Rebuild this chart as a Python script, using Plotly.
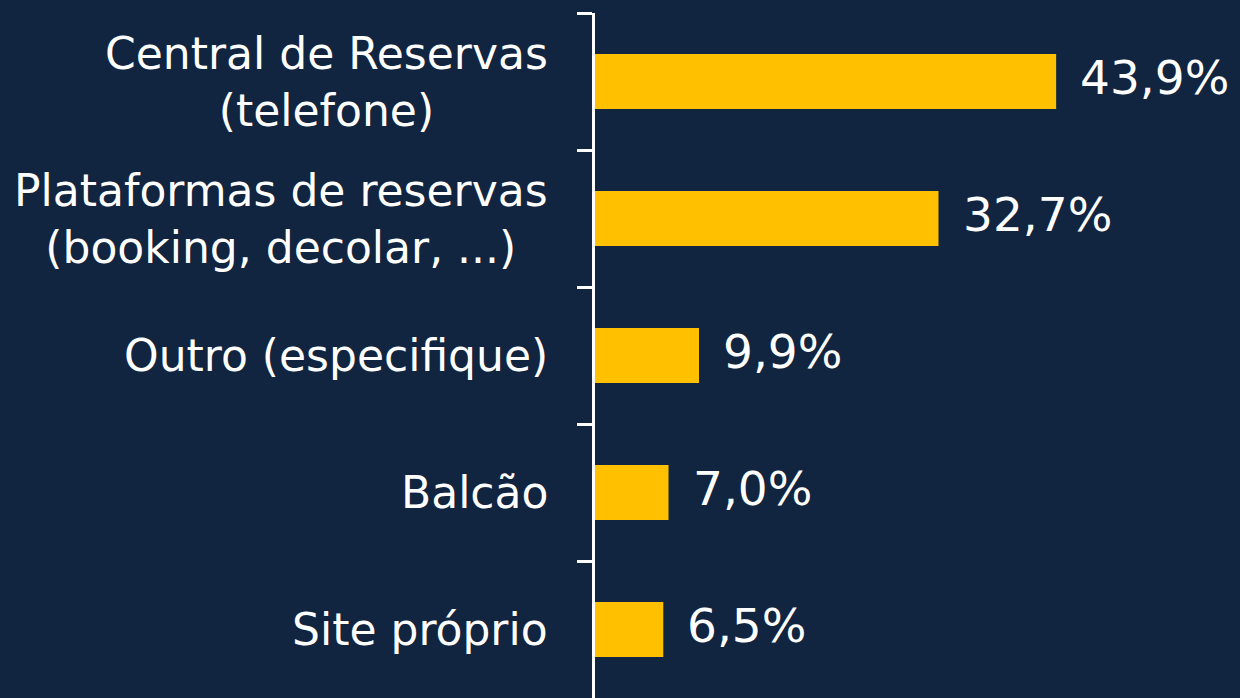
import plotly.graph_objects as go

categories = ["Central de Reservas<br>(telefone)",
              "Plataformas de reservas<br>(booking, decolar, ...)",
              "Outro (especifique)",
              "Balcão",
              "Site próprio"]
values = [43.9, 32.7, 9.9, 7.0, 6.5]
value_labels = [f"{v:.1f}".replace(".", ",") + "%" for v in values]

BG = "#112440"
BAR = "#FFC000"
FONT = "DejaVu Sans, Liberation Sans, Arial, sans-serif"

fig = go.Figure()
fig.add_trace(go.Bar(
    x=values, y=categories, orientation="h",
    marker=dict(color=BAR, line=dict(width=0)),
    width=0.4, hoverinfo="skip",
))

for c, v, lab in zip(categories, values, value_labels):
    fig.add_annotation(x=v, y=c, xref="x", yref="y", text=lab,
                       showarrow=False, xanchor="left", yanchor="middle",
                       xshift=22, yshift=4,
                       font=dict(family=FONT, size=47, color="white"))
    fig.add_annotation(x=0, y=c, xref="paper", yref="y", text=c,
                       showarrow=False, xanchor="right", yanchor="middle",
                       align="center", xshift=-45,
                       font=dict(family=FONT, size=44, color="white"))

fig.update_layout(
    width=1240, height=698,
    paper_bgcolor=BG, plot_bgcolor=BG,
    margin=dict(l=595, r=0, t=13, b=0),
    showlegend=False,
    xaxis=dict(range=[0, 61.4], visible=False, showgrid=False, zeroline=False),
    yaxis=dict(type="category", autorange="reversed",
               categoryorder="array", categoryarray=categories,
               showticklabels=False, showgrid=False, zeroline=False,
               showline=True, linecolor="white", linewidth=3,
               ticks="outside", tickson="boundaries", ticklen=15,
               tickcolor="white", tickwidth=3),
)

fig.write_html("out.html",
               config={"displayModeBar": False, "staticPlot": True},
               post_script="document.documentElement.style.margin='0';"
                           "document.body.style.margin='0';"
                           "document.body.style.overflow='hidden';"
                           "document.body.style.background='" + BG + "';")
